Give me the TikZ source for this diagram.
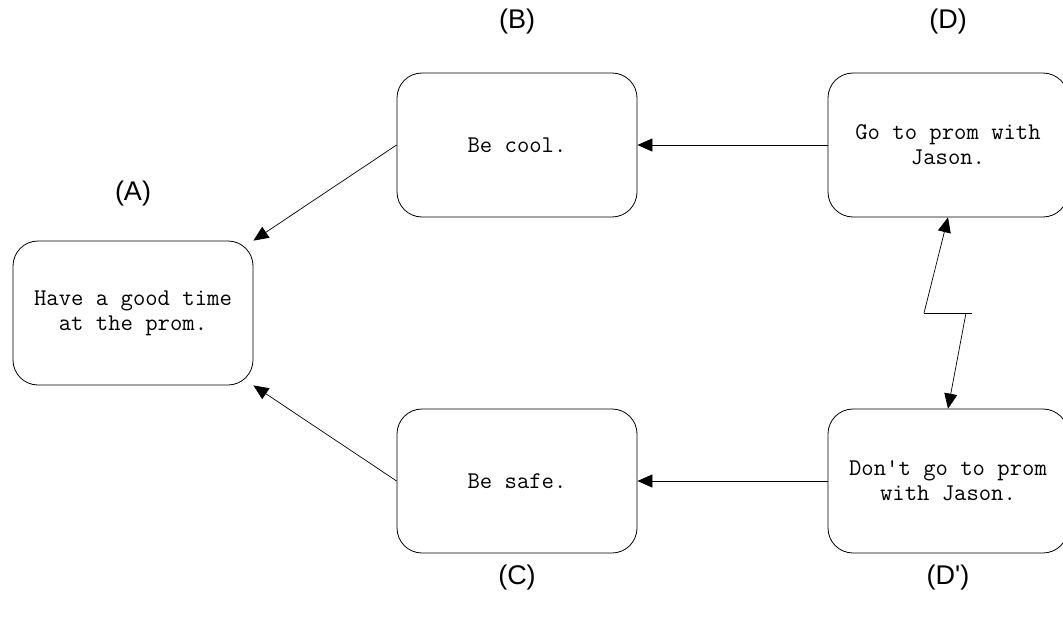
\documentclass[tikz,border=0pt]{standalone}
\usepackage{fontspec}
\newfontfamily\labfont{Liberation Sans}[Ligatures=TeXOff]
\newfontfamily\boxfont{Latin Modern Mono}[Ligatures=TeXOff]
\usetikzlibrary{arrows.meta}
\begin{document}
\begin{tikzpicture}[x=1pt,y=-1pt,
  box/.style={draw, line width=0.8pt, rounded corners=25pt, minimum width=240pt,
    minimum height=144pt, inner sep=0pt, align=center,
    font=\boxfont\fontsize{24}{25}\selectfont},
  lab/.style={font=\labfont\fontsize{27}{30}\selectfont, inner sep=0pt},
  conn/.style={line width=0.7pt, -{Triangle[length=15pt,width=13pt]}},
  seg/.style={line width=0.7pt}]
\useasboundingbox (0,0) rectangle (1063,618);
\clip (0,0) rectangle (1063,618);
\node[box] (A) at (133,313) {Have a good time\\at the prom.};
\node[box] (B) at (517,145) {Be cool.};
\node[box] (C) at (517,481) {Be safe.};
\node[box] (D) at (948,145) {Go to prom with\\Jason.};
\node[box] (Dp) at (948,481) {Don't go to prom\\with Jason.};
\node[lab] (la) at (133,194) {(A)};
\node[lab] (lb) at (517,22) {(B)};
\node[lab] (lc) at (517,578) {(C)};
\node[lab] (ld) at (948,22) {(D)};
\node[lab] (ldp) at (948,578) {(D')};
\draw[conn] (B.west) -- (A.north east);
\draw[conn] (C.west) -- (A.south east);
\draw[conn] (D.west) -- (B.east);
\draw[conn] (Dp.west) -- (C.east);
\coordinate (z1) at (924,313);
\coordinate (z2) at (972,313);
\coordinate (z3) at (966,313);
\draw[conn] (z1) -- (D.south);
\draw[seg] (z1) -- (z2);
\draw[conn] (z3) -- (Dp.north);
\end{tikzpicture}
\end{document}
